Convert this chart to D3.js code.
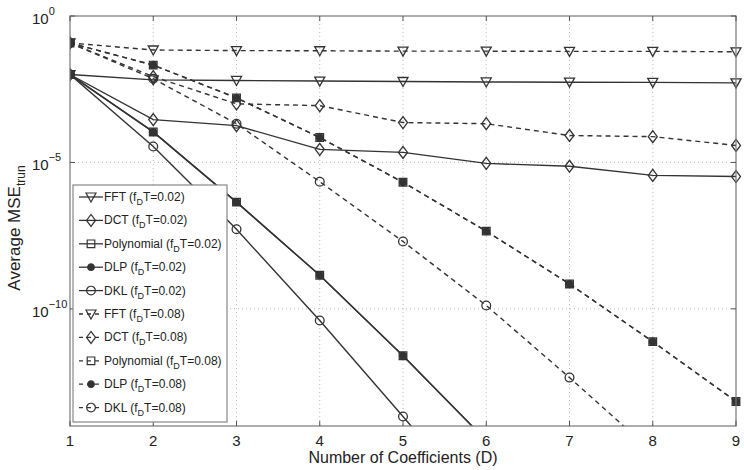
<!DOCTYPE html>
<html>
<head>
<meta charset="utf-8">
<script src="https://cdn.jsdelivr.net/npm/d3@7"></script>
<style>
  body { margin: 0; background: #fff; }
  svg { font-family: "Liberation Sans", Arial, Helvetica, sans-serif; }
</style>
</head>
<body>
<div id="chart"></div>
<script>
// number of coefficients D
var coeffs = [1, 2, 3, 4, 5, 6, 7, 8, 9];

// average truncation MSE (fD*T = 0.02)
var fft002  = [1.0e-2, 6.6e-3, 6.3e-3, 6.0e-3, 5.8e-3, 5.6e-3, 5.5e-3, 5.4e-3, 5.2e-3];
var dct002  = [1.0e-2, 2.9e-4, 1.8e-4, 2.8e-5, 2.2e-5, 9.3e-6, 7.4e-6, 3.6e-6, 3.3e-6];
var poly002 = [1.0e-2, 1.1e-4, 4.4e-7, 1.4e-9, 2.5e-12, 3.2e-15];
var dlp002  = [1.0e-2, 1.1e-4, 4.4e-7, 1.4e-9, 2.5e-12, 3.2e-15];
var dkl002  = [1.0e-2, 3.5e-5, 5.2e-8, 4.0e-11, 2.1e-14, 1.0e-17];

// fD*T = 0.08
var fft008  = [1.2e-1, 6.9e-2, 6.6e-2, 6.5e-2, 6.3e-2, 6.3e-2, 6.2e-2, 6.2e-2, 6.0e-2];
var dct008  = [1.2e-1, 8.5e-3, 1.0e-3, 8.7e-4, 2.3e-4, 2.1e-4, 8.3e-5, 7.6e-5, 3.8e-5];
var poly008 = [1.2e-1, 2.1e-2, 1.6e-3, 7.1e-5, 2.1e-6, 4.5e-8, 7.1e-10, 7.6e-12, 6.9e-14];
var dlp008  = [1.2e-1, 2.1e-2, 1.6e-3, 7.1e-5, 2.1e-6, 4.5e-8, 7.1e-10, 7.6e-12, 6.9e-14];
var dkl008  = [1.2e-1, 7.2e-3, 2.1e-4, 2.2e-6, 2.0e-8, 1.3e-10, 4.5e-13, 1.3e-15];

var seriesNames = ["FFT", "DCT", "Polynomial", "DLP", "DKL", "FFT", "DCT", "Polynomial", "DLP", "DKL"];
var seriesFdT   = ["0.02", "0.02", "0.02", "0.02", "0.02", "0.08", "0.08", "0.08", "0.08", "0.08"];
var seriesVals  = [fft002, dct002, poly002, dlp002, dkl002, fft008, dct008, poly008, dlp008, dkl008];

var xTicks = [1, 2, 3, 4, 5, 6, 7, 8, 9];
var yTicks = [1e0, 1e-5, 1e-10];
var yTickExp = ["0", "\u22125", "\u221210"];

var width = 744, height = 470;
var margin = {top: 16, right: 8, bottom: 44, left: 70};
var x0 = margin.left, x1 = width - margin.right,
    y0 = margin.top, y1 = height - margin.bottom;

var x = d3.scaleLinear().domain([1, 9]).range([x0, x1]);
var y = d3.scaleLog().domain([1e-14, 1e0]).range([y1, y0]);

var lineCol = "#333";

var svg = d3.select("#chart").append("svg")
  .attr("width", width)
  .attr("height", height);

svg.append("defs").append("clipPath")
  .attr("id", "plotclip")
  .append("rect")
  .attr("x", x0).attr("y", y0 - 6)
  .attr("width", x1 - x0 + 6).attr("height", y1 - y0 + 6);

// grid
var grid = svg.append("g").attr("class", "grid");
grid.selectAll(".gx")
  .data(xTicks.slice(1, -1))
  .enter().append("line")
  .attr("x1", function(d) { return x(d); })
  .attr("x2", function(d) { return x(d); })
  .attr("y1", y0).attr("y2", y1)
  .style("stroke", "#bbb")
  .style("stroke-dasharray", "1,3");
grid.selectAll(".gy")
  .data(yTicks.slice(1))
  .enter().append("line")
  .attr("x1", x0).attr("x2", x1)
  .attr("y1", function(d) { return y(d); })
  .attr("y2", function(d) { return y(d); })
  .style("stroke", "#bbb")
  .style("stroke-dasharray", "1,3");

// marker shapes
function markerPath(name) {
  if (name == "FFT") return "M-5,-4L5,-4L0,5Z";
  if (name == "DCT") return "M0,-6L4.5,0L0,6L-4.5,0Z";
  if (name == "Polynomial") return "M-3.8,-3.8L3.8,-3.8L3.8,3.8L-3.8,3.8Z";
  if (name == "DLP") return d3.symbol().type(d3.symbolCircle).size(34)();
  return d3.symbol().type(d3.symbolCircle).size(60)();
}

var plot = svg.append("g").attr("clip-path", "url(#plotclip)");

var line = d3.line()
  .x(function(d, i) { return x(coeffs[i]); })
  .y(function(d) { return y(d); });

seriesVals.forEach(function(vals, k) {
  var dashed = seriesFdT[k] == "0.08";
  var g = plot.append("g");
  g.append("path")
    .datum(vals)
    .attr("d", line)
    .style("fill", "none")
    .style("stroke", lineCol)
    .style("stroke-width", 1.4)
    .style("stroke-dasharray", dashed ? "5,4" : null);
  g.selectAll(".mk")
    .data(vals)
    .enter().append("path")
    .attr("transform", function(d, i) { return "translate(" + x(coeffs[i]) + "," + y(d) + ")"; })
    .attr("d", markerPath(seriesNames[k]))
    .style("fill", seriesNames[k] == "DLP" ? lineCol : "none")
    .style("stroke", lineCol)
    .style("stroke-width", 1.3);
});

// axes box
svg.append("rect")
  .attr("x", x0).attr("y", y0)
  .attr("width", x1 - x0).attr("height", y1 - y0)
  .style("fill", "none")
  .style("stroke", "#777")
  .style("stroke-width", 1.2);

// ticks
var ticks = svg.append("g").style("stroke", "#555");
xTicks.forEach(function(t) {
  ticks.append("line").attr("x1", x(t)).attr("x2", x(t)).attr("y1", y1).attr("y2", y1 - 5);
  ticks.append("line").attr("x1", x(t)).attr("x2", x(t)).attr("y1", y0).attr("y2", y0 + 5);
});
yTicks.forEach(function(t) {
  ticks.append("line").attr("x1", x0).attr("x2", x0 + 5).attr("y1", y(t)).attr("y2", y(t));
  ticks.append("line").attr("x1", x1).attr("x2", x1 - 5).attr("y1", y(t)).attr("y2", y(t));
});

// tick labels
svg.selectAll(".xl")
  .data(xTicks)
  .enter().append("text")
  .attr("x", function(d) { return x(d); })
  .attr("y", y1 + 20)
  .attr("text-anchor", "middle")
  .style("font-size", "15px")
  .style("fill", "#222")
  .text(function(d) { return d; });

yTicks.forEach(function(t, i) {
  var txt = svg.append("text")
    .attr("x", 32)
    .attr("y", y(t) + 8)
    .style("font-size", "15px")
    .style("fill", "#222");
  txt.append("tspan").text("10");
  txt.append("tspan")
    .attr("dy", -9)
    .style("font-size", "11px")
    .text(yTickExp[i]);
});

// axis titles
svg.append("text")
  .attr("x", x(5))
  .attr("y", 463)
  .attr("text-anchor", "middle")
  .style("font-size", "16px")
  .style("fill", "#222")
  .text("Number of Coefficients (D)");

var yl = svg.append("text")
  .attr("transform", "translate(20," + 228 + ") rotate(-90)")
  .attr("text-anchor", "middle")
  .style("font-size", "17px")
  .style("fill", "#222");
yl.append("tspan").text("Average MSE");
yl.append("tspan").attr("dy", 5).style("font-size", "12px").text("trun");

// legend
var lg = svg.append("g").attr("transform", "translate(73,185)");
lg.append("rect")
  .attr("width", 154).attr("height", 237)
  .style("fill", "#fff")
  .style("stroke", "#888")
  .style("stroke-width", 1.2);

var rows = lg.selectAll(".row")
  .data(seriesNames)
  .enter().append("g")
  .attr("transform", function(d, i) { return "translate(0," + (12 + i * 23.4) + ")"; });

rows.append("line")
  .attr("x1", 6).attr("x2", 30)
  .style("stroke", lineCol)
  .style("stroke-width", 1.3)
  .style("stroke-dasharray", function(d, i) { return seriesFdT[i] == "0.08" ? "4,4" : null; });

rows.append("path")
  .attr("transform", "translate(18,0)")
  .attr("d", function(d) { return markerPath(d); })
  .style("fill", function(d) { return d == "DLP" ? lineCol : "none"; })
  .style("stroke", lineCol)
  .style("stroke-width", 1.2);

var lt = rows.append("text")
  .attr("x", 31)
  .attr("y", 4)
  .style("font-size", "12px")
  .style("fill", "#222");
lt.append("tspan").text(function(d) { return d + " (f"; });
lt.append("tspan").attr("dy", 4).style("font-size", "9px").text("D");
lt.append("tspan").attr("dy", -4).text(function(d, i) { return "T=" + seriesFdT[i] + ")"; });
</script>
</body>
</html>
